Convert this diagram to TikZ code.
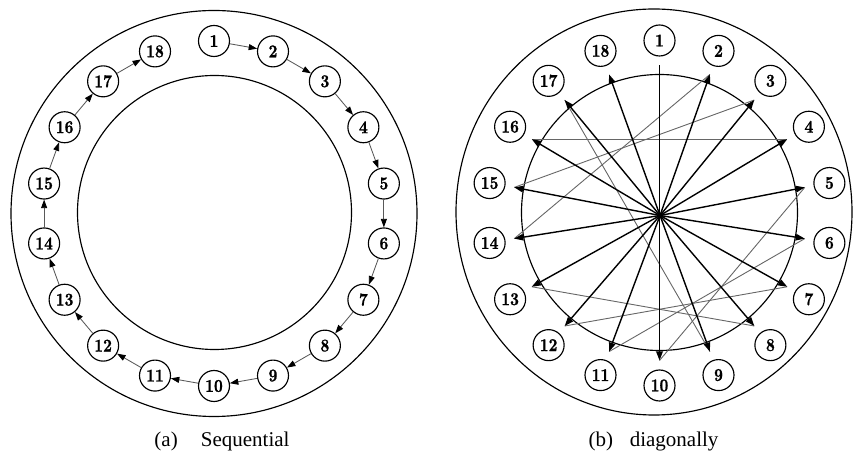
\documentclass[tikz,border=0pt]{standalone}
\usepackage{fontspec}
\usepackage{graphicx}
\newfontfamily\capfont{Liberation Serif}
\newfontfamily\numfont{lmroman10-bold.otf}[FakeBold=1.2]
\usetikzlibrary{arrows.meta}
\begin{document}
\begin{tikzpicture}[x=1pt,y=1pt,
  num/.style={circle,draw,line width=1.15pt,minimum size=31pt,inner sep=0pt,font=\numfont\fontsize{18}{18}\selectfont},
  seqarrow/.style={draw=black!65,line width=0.85pt,-{Triangle[length=8.5pt,width=6pt,color=black]}},
  spoke/.style={line width=1.4pt,-{Triangle[length=9pt,width=6.5pt]}},
  cross/.style={draw=black!60,line width=0.9pt},
  ring/.style={line width=1.15pt},
  captext/.style={font=\capfont\fontsize{21}{21}\selectfont}]
\useasboundingbox (0,0) rectangle (853,465);
% ---------- (a) sequential ----------
\draw[ring] (214,251.5) circle[radius=203];
\draw[ring] (214.5,252.5) circle[radius=137];
\foreach \k in {1,...,18}
  \node[num] (a\k) at ({214+172.5*cos(90-20*(\k-1))},{251.5+172.5*sin(90-20*(\k-1))}) {\scalebox{0.85}[1]{\k}};
\foreach \k [evaluate=\k as \n using int(\k+1)] in {1,...,17}
  \draw[seqarrow] (a\k) -- (a\n);
% ---------- (b) diagonally ----------
\draw[ring] (654,253) ellipse[x radius=198,y radius=203];
\draw[ring] (659.5,252.5) circle[radius=138];
\foreach \k in {1,...,18}{
  \node[num] (b\k) at ({659.5+172.5*cos(90-20*(\k-1))},{252+172.5*sin(90-20*(\k-1))}) {\scalebox{0.85}[1]{\k}};
  \coordinate (t\k) at ({659.5+147.5*cos(90-20*(\k-1))},{252+147.5*sin(90-20*(\k-1))});
}
\coordinate (H) at (660,249.5);
\draw[cross] (t10) -- (t5);
\draw[cross] (t11) -- (t6);
\draw[cross] (t12) -- (t7);
\draw[cross] (t13) -- (t8);
\draw[cross] (t14) -- (t2);
\draw[cross] (t15) -- (t3);
\draw[cross] (t16) -- (t4);
\draw[cross] (t17) -- (t9);
\draw[spoke] (t1) -- (t10);
\foreach \k in {2,...,9,11,12,...,18}
  \draw[spoke] (H) -- (t\k);
% ---------- captions ----------
\node[captext] (capa) at (222,24) {(a)\hspace{1.1em}Sequential};
\node[captext] (capb) at (653.5,24) {(b)\hspace{0.8em}diagonally};
\end{tikzpicture}
\end{document}
